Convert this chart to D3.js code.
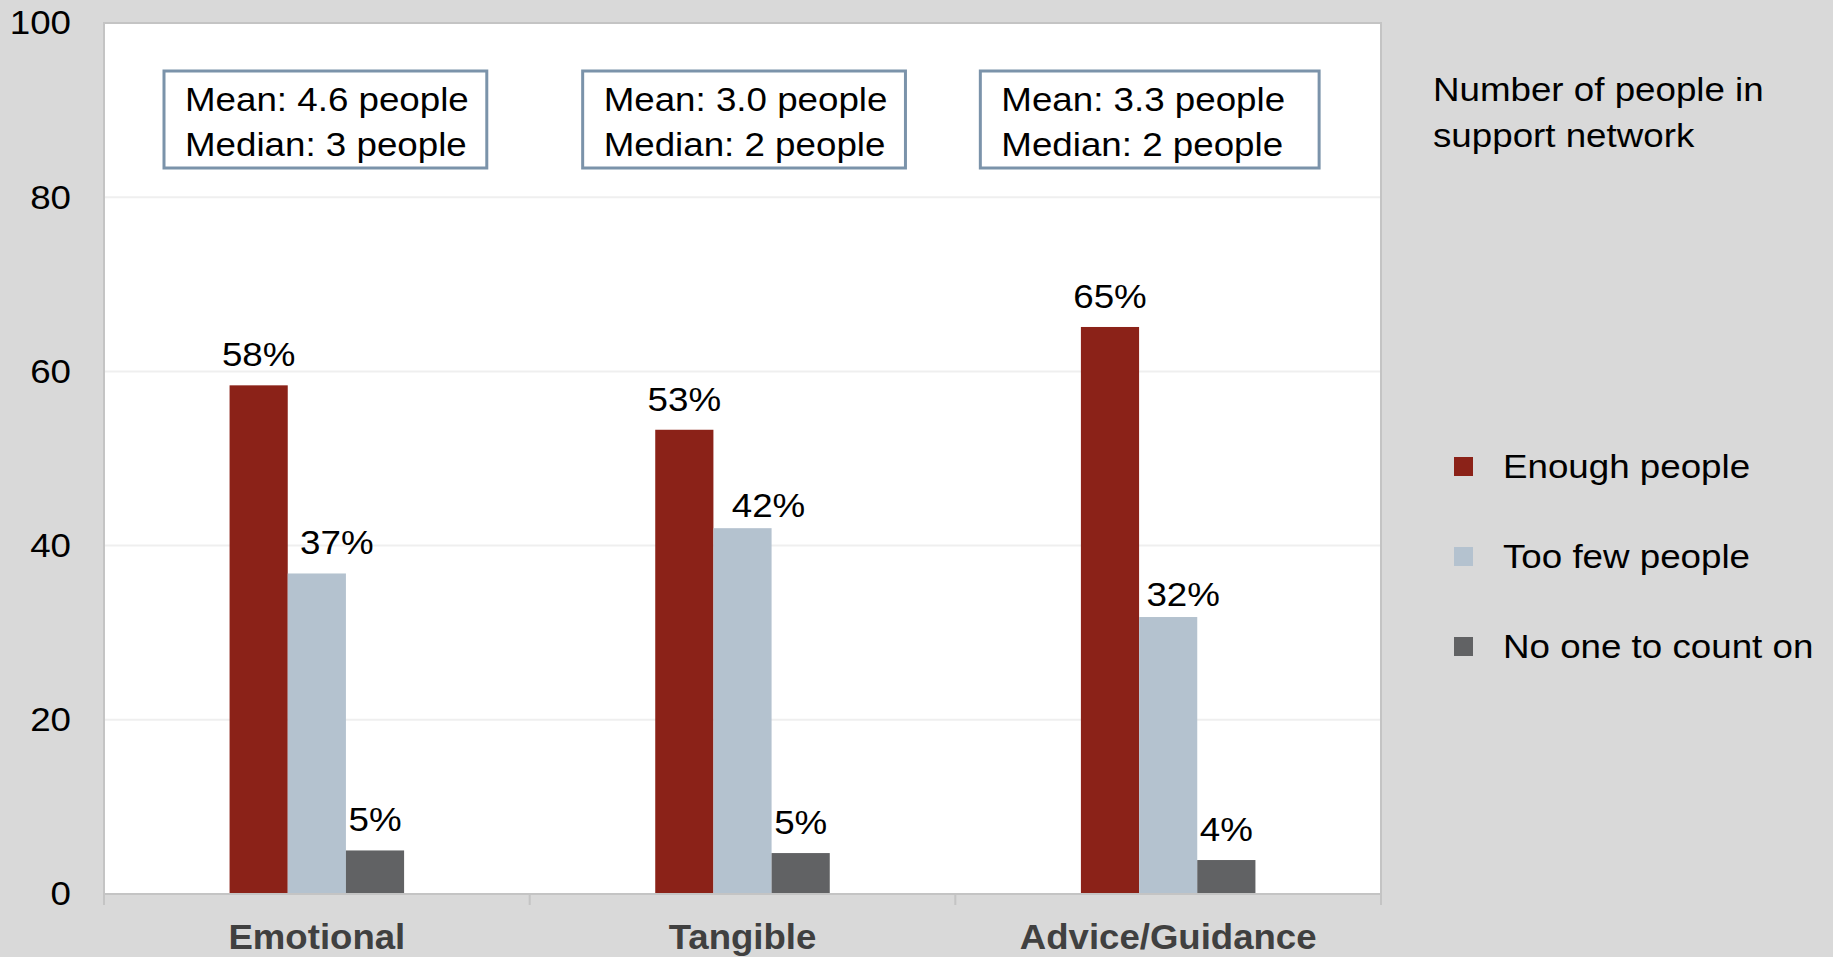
<!DOCTYPE html>
<html><head><meta charset="utf-8">
<script src="https://cdn.jsdelivr.net/npm/d3@7"></script>
<style>
html,body{margin:0;padding:0;background:#d9d9d9;}
svg{display:block;font-family:Arial,"Liberation Sans",sans-serif;}
</style></head>
<body>
<svg id="chart" width="1833" height="957"></svg>
<script>
const categories = ["Emotional", "Tangible", "Advice/Guidance"];
const seriesNames = ["Enough people", "Too few people", "No one to count on"];
const enoughPeople = [58.4, 53.3, 65.1];
const tooFewPeople = [36.8, 42.0, 31.8];
const noOne = [5.0, 4.7, 3.9];
const meanLabels = ["Mean: 4.6 people", "Mean: 3.0 people", "Mean: 3.3 people"];
const medianLabels = ["Median: 3 people", "Median: 2 people", "Median: 2 people"];
const yTicks = [0, 20, 40, 60, 80, 100];
const legendTitle = ["Number of people in", "support network"];
const colors = ["#8b2218", "#b4c2cf", "#616264"];

const seriesValues = [enoughPeople, tooFewPeople, noOne];
const rows = categories.map((c, i) => ({cat: c, idx: i, vals: seriesNames.map((s, j) => ({s, j, i, v: seriesValues[j][i]}))}));

const STRETCH = 1.08;
function stretch(sel, k) {
  sel.each(function () {
    const l = this.getComputedTextLength();
    this.setAttribute("textLength", l * k);
    this.setAttribute("lengthAdjust", "spacingAndGlyphs");
  });
}

const svg = d3.select("#chart");
const L = 104, R = 1381, T = 23, B = 894;

const x = d3.scaleBand().domain(categories).range([L, R]).padding(0);
const groupW = x.bandwidth() * 0.41;
const x1 = d3.scaleBand().domain(seriesNames).range([0, groupW]).padding(0);
const y = d3.scaleLinear().domain([0, 100]).range([B, T]);
const color = d3.scaleOrdinal().domain(seriesNames).range(colors);

// label nudges for the middle series (moved aside of the neighbouring bar)
const midLabelDx = [20, 26, 15];
const midLabelDy = [0, 8, 8];

// plot area
svg.append("rect").attr("x", L).attr("y", T).attr("width", R - L).attr("height", B - T)
  .attr("fill", "#fff").attr("stroke", "#c4c4c4").attr("stroke-width", 2);

// gridlines
svg.append("g").selectAll("line").data(yTicks.filter(t => t > 0 && t < 100)).join("line")
  .attr("x1", L + 1).attr("x2", R - 1).attr("y1", d => y(d)).attr("y2", d => y(d))
  .attr("stroke", "#efefef").attr("stroke-width", 2);

// y axis labels
const yAxis = d3.axisLeft(y).tickValues(yTicks).tickSize(0).tickPadding(33);
const yg = svg.append("g").attr("transform", `translate(${L},0)`).call(yAxis);
yg.select(".domain").remove();
yg.selectAll("text").attr("font-size", 34).attr("fill", "#000").attr("font-family", "Arial, 'Liberation Sans', sans-serif");
stretch(yg.selectAll("text"), STRETCH);

// bars
const groups = svg.append("g").selectAll("g").data(rows).join("g")
  .attr("transform", d => `translate(${x(d.cat) + x.bandwidth() / 2 - groupW / 2},0)`);
groups.selectAll("rect").data(d => d.vals).join("rect")
  .attr("x", d => x1(d.s)).attr("width", x1.bandwidth())
  .attr("y", d => y(d.v)).attr("height", d => y(0) - y(d.v))
  .attr("fill", d => color(d.s));
const labels = groups.selectAll("text").data(d => d.vals).join("text")
  .attr("x", d => x1(d.s) + x1.bandwidth() / 2 + (d.j === 1 ? midLabelDx[d.i] : 0))
  .attr("y", d => y(d.v) - 19 + (d.j === 1 ? midLabelDy[d.i] : 0))
  .attr("text-anchor", "middle").attr("font-size", 34).attr("fill", "#000")
  .text(d => Math.round(d.v) + "%");
stretch(labels, STRETCH);

// x axis
const xAxis = d3.axisBottom(x).tickSize(0).tickPadding(0);
const xg = svg.append("g").attr("transform", `translate(0,${B})`).call(xAxis);
xg.select(".domain").remove();
xg.selectAll("text").attr("font-size", 35).attr("font-weight", "bold").attr("fill", "#404040")
  .attr("dy", null).attr("y", 55).attr("font-family", "Arial, 'Liberation Sans', sans-serif");
stretch(xg.selectAll("text"), 1.045);
svg.append("line").attr("x1", L - 1).attr("x2", R + 1).attr("y1", B).attr("y2", B)
  .attr("stroke", "#c4c4c4").attr("stroke-width", 2);
const bounds = categories.map(c => x(c)).concat([R]);
svg.append("g").selectAll("line").data(bounds).join("line")
  .attr("x1", d => d).attr("x2", d => d).attr("y1", B).attr("y2", B + 11)
  .attr("stroke", "#c4c4c4").attr("stroke-width", 2);

// annotation boxes
const boxOffsets = [60, 53, 25];
const boxExtra = [0, 0, 16];
categories.forEach((c, i) => {
  const g = svg.append("g");
  const tx = x(c) + boxOffsets[i] + 21;
  const t1 = g.append("text").attr("x", tx).attr("y", 111).attr("font-size", 34).text(meanLabels[i]);
  const t2 = g.append("text").attr("x", tx).attr("y", 156).attr("font-size", 34).text(medianLabels[i]);
  const w = Math.max(t1.node().getComputedTextLength(), t2.node().getComputedTextLength()) * STRETCH;
  stretch(g.selectAll("text"), STRETCH);
  g.insert("rect", "text").attr("x", tx - 21).attr("y", 71).attr("width", w + 39 + boxExtra[i]).attr("height", 97)
    .attr("fill", "#fff").attr("stroke", "#7b93aa").attr("stroke-width", 3);
});

// legend
const lg = svg.append("g");
lg.selectAll("text.title").data(legendTitle).join("text").attr("class", "title")
  .attr("x", 1433).attr("y", (d, i) => 101 + i * 46).attr("font-size", 34).attr("fill", "#000").text(d => d);
const items = lg.selectAll("g.item").data(seriesNames).join("g").attr("class", "item")
  .attr("transform", (d, i) => `translate(1454,${466 + i * 90})`);
items.append("rect").attr("x", 0).attr("y", -9).attr("width", 19).attr("height", 19).attr("fill", d => color(d));
items.append("text").attr("x", 49).attr("y", 12).attr("font-size", 34).attr("fill", "#000").text(d => d);
stretch(lg.selectAll("text"), STRETCH);
</script>
</body></html>
